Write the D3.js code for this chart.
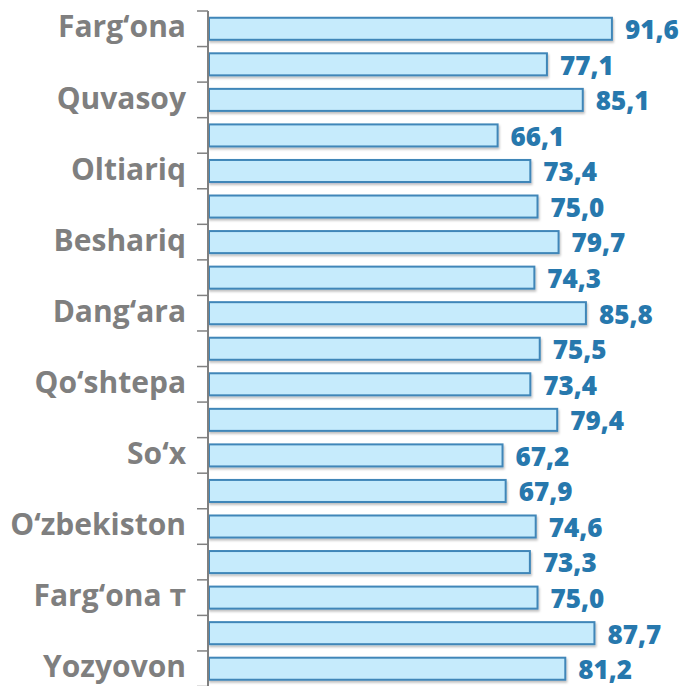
<!DOCTYPE html>
<html>
<head>
<meta charset="utf-8">
<script src="https://cdn.jsdelivr.net/npm/d3@7"></script>
<style>
  body { margin: 0; background: #fff; }
  svg { display: block; }
</style>
</head>
<body>
<div id="root"></div>
<script>
const categories = ['Farg‘ona', 'Qo‘qon', 'Quvasoy', 'Marg‘ilon', 'Oltiariq', 'Bag‘dod', 'Beshariq', 'Buvayda',
  'Dang‘ara', 'Furqat', 'Qo‘shtepa', 'Quva', 'So‘x', 'Toshloq', 'O‘zbekiston', 'Uchko‘prik', 'Farg‘ona т', 'Rishton', 'Yozyovon'];
const values = [91.6, 77.1, 85.1, 66.1, 73.4, 75.0, 79.7, 74.3, 85.8, 75.5, 73.4, 79.4, 67.2, 67.9, 74.6, 73.3, 75.0, 87.7, 81.2];
// only every other category gets a visible label
const shownLabels = ['Farg‘ona', 'Quvasoy', 'Oltiariq', 'Beshariq', 'Dang‘ara', 'Qo‘shtepa', 'So‘x', 'O‘zbekiston', 'Farg‘ona т', 'Yozyovon'];

const width = 687, height = 686;
const axisX = 208;

const svg = d3.select('#root').append('svg')
  .attr('width', width)
  .attr('height', height);

const defs = svg.append('defs');
const shadow = defs.append('filter').attr('id', 'shadow')
  .attr('x', '-5%').attr('y', '-20%').attr('width', '110%').attr('height', '160%');
shadow.append('feDropShadow')
  .attr('dx', 1).attr('dy', 2).attr('stdDeviation', 1)
  .attr('flood-color', '#000').attr('flood-opacity', 0.25);

const x = d3.scaleLinear().domain([1.5, 100]).range([axisX, axisX + 98.5 * 4.483]);
const y = d3.scaleBand().domain(categories).range([11, 686.5]).paddingInner(0.38).paddingOuter(0.19);

const fmt = v => v.toFixed(1).replace('.', ',');

// bars
svg.append('g').selectAll('rect')
  .data(values).enter()
  .append('rect')
  .attr('x', x(1.5) + 1)
  .attr('y', (d, i) => y(categories[i]))
  .attr('width', d => x(d) - x(1.5) - 1)
  .attr('height', y.bandwidth())
  .attr('fill', '#c6ebfc')
  .attr('stroke', '#3f86b8')
  .attr('stroke-width', 2)
  .attr('filter', 'url(#shadow)');

// value labels
svg.append('g').selectAll('text')
  .data(values).enter()
  .append('text')
  .attr('x', d => x(d) + 13)
  .attr('y', (d, i) => y(categories[i]) + y.bandwidth() / 2)
  .attr('dy', '0.4em')
  .attr('font-family', '"Open Sans", sans-serif')
  .attr('font-weight', 800)
  .attr('font-size', 26)
  .attr('fill', '#2778ad')
  .text(fmt);

// axis line + ticks at band boundaries
const axis = svg.append('g').attr('stroke', '#808080');
axis.append('line')
  .attr('x1', axisX).attr('x2', axisX)
  .attr('y1', y.range()[0]).attr('y2', height)
  .attr('stroke-width', 2);
axis.selectAll('line.tick')
  .data(d3.range(categories.length + 1)).enter()
  .append('line')
  .attr('class', 'tick')
  .attr('x1', axisX - 11).attr('x2', axisX)
  .attr('y1', i => y.range()[0] + i * y.step())
  .attr('y2', i => y.range()[0] + i * y.step())
  .attr('stroke-width', 1.5);

// category labels
svg.append('g').selectAll('text')
  .data(categories.filter(c => shownLabels.includes(c))).enter()
  .append('text')
  .attr('x', 186)
  .attr('y', d => y(d) + y.bandwidth() / 2)
  .attr('dy', '0.29em')
  .attr('text-anchor', 'end')
  .attr('font-family', '"Open Sans", sans-serif')
  .attr('font-weight', 700)
  .attr('font-size', 30)
  .attr('fill', '#7f7f7f')
  .text(d => d);
</script>
</body>
</html>
